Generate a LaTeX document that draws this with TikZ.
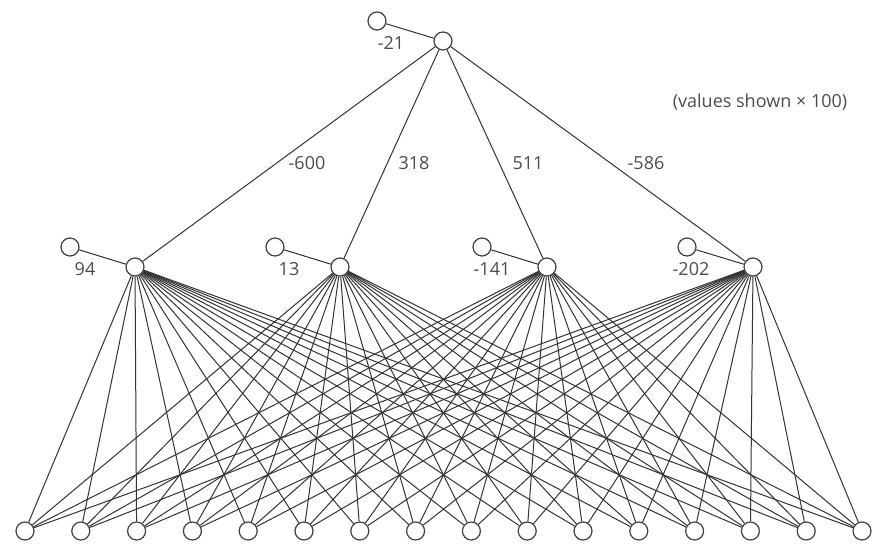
\documentclass[tikz,border=0pt]{standalone}
\usepackage{fontspec}
\setmainfont{Open Sans}
\begin{document}
\begin{tikzpicture}[x=1pt,y=-1pt,
  neuron/.style={circle,draw=black!75,fill=white,line width=1.2pt,minimum size=18pt,inner sep=0pt},
  conn/.style={draw=black!80,line width=1pt},
  lbl/.style={text=black!70,font=\fontsize{18}{20}\selectfont,inner sep=0pt}]
\useasboundingbox (0,0) rectangle (880,546);
% output
\node[neuron] (o) at (443,41) {};
\node[neuron] (ob) at (377,21) {};
\node[lbl] at (391,43) {-21};
% hidden
\foreach \i/\x/\bx/\lx/\t in {1/135/70/85/94, 2/340/275/289/13, 3/547/482/492/-141, 4/753/687/691/-202}{
  \node[neuron] (h\i) at (\x,267) {};
  \node[neuron] (hb\i) at (\bx,247) {};
  \node[lbl] at (\lx,269) {\t};
}
% inputs
\foreach \j in {1,...,16}{
  \node[neuron] (in\j) at ({25+(\j-1)*55.8},531) {};
}
% connections
\draw[conn] (ob) -- (o);
\foreach \i in {1,...,4}{
  \draw[conn] (o) -- (h\i);
  \draw[conn] (hb\i) -- (h\i);
  \foreach \j in {1,...,16}{
    \draw[conn] (h\i) -- (in\j);
  }
}
% weight labels
\node[lbl] at (307,163) {-600};
\node[lbl] at (414,163) {318};
\node[lbl] at (528,163) {511};
\node[lbl] at (646,163) {-586};
\node[lbl] at (760,102) {(values shown \texttimes{} 100)};
\end{tikzpicture}
\end{document}
